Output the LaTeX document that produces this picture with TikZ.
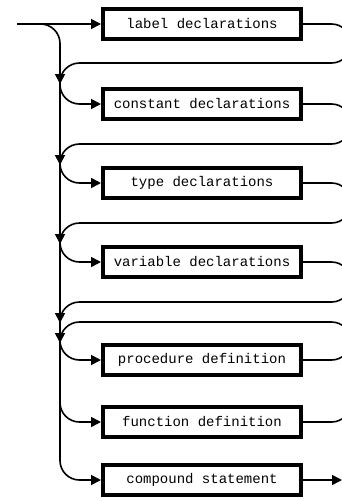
\documentclass[tikz,border=0pt]{standalone}
\usepackage{fontspec}
\newfontfamily\monofont{Liberation Mono}
\usetikzlibrary{arrows.meta}
\tikzset{
  synbox/.style={draw, line width=3.8pt, minimum width=198.2pt, minimum height=30.2pt,
    inner sep=0pt, font=\monofont\fontsize{14}{16}\selectfont},
  conn/.style={line width=1.6pt, rounded corners=19.5pt},
  tip/.style={-{Triangle[length=10pt,width=10pt]}}
}
\begin{document}
\begin{tikzpicture}[x=1pt,y=-1pt]
\useasboundingbox (0,0) rectangle (342,501);
\clip (0,0) rectangle (342,501);
\fill[white] (0,0) rectangle (342,501);
\node[synbox] (b1) at (202,24) {label declarations};
\node[synbox] (b2) at (202,104) {constant declarations};
\node[synbox] (b3) at (202,183) {type declarations};
\node[synbox] (b4) at (202,262) {variable declarations};
\node[synbox] (b5) at (202,360) {procedure definition};
\node[synbox] (b6) at (202,422) {function definition};
\node[synbox] (b7) at (202,480) {compound statement};
\coordinate (in) at (17,24);
\coordinate (out) at (342,480);
% entry and spine
\draw[conn,tip] (in) -- (b1.west);
\draw[conn,tip] (40,24) -- (60,24) -- (60,480) -- (b7.west);
% branches into boxes
\draw[conn,tip] (60,84) |- (b2.west);
\draw[conn,tip] (60,163) |- (b3.west);
\draw[conn,tip] (60,242) |- (b4.west);
\draw[conn,tip] (60,340) |- (b5.west);
\draw[conn,tip] (60,402) |- (b6.west);
% loops back
\draw[conn,tip] (b1.east) -- (351,24) -- (351,63) -- (60,63) -- (60,84);
\draw[conn,tip] (b2.east) -- (351,104) -- (351,144) -- (60,144) -- (60,165);
\draw[conn,tip] (b3.east) -- (351,183) -- (351,223) -- (60,223) -- (60,244);
\draw[conn,tip] (b4.east) -- (351,262) -- (351,302) -- (60,302) -- (60,323);
\draw[conn,tip] (b5.east) -- (351,360) -- (351,322) -- (60,322) -- (60,343);
\draw[conn] (b6.east) -- (351,422) -- (351,341);
% exit
\draw[line width=1.6pt,tip] (b7.east) -- (out);
\end{tikzpicture}
\end{document}
